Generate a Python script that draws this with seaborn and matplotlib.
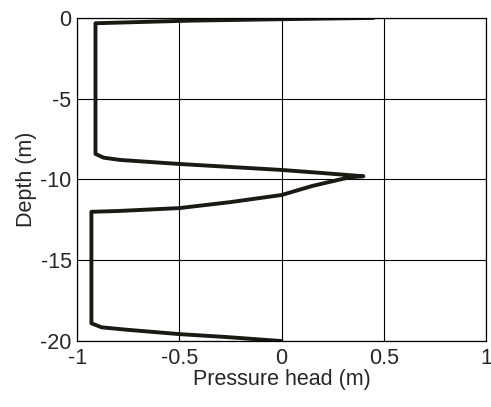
import seaborn as sns
import pandas as pd
import matplotlib
matplotlib.use("Agg")
import matplotlib.pyplot as plt

# profile, top to bottom
pressure = [0.45, 0.0, -0.45, -0.91, -0.91, -0.91, -0.87, -0.79, -0.5, 0.0, 0.2, 0.4,
            0.33, 0.15, 0.0, -0.25, -0.5, -0.8, -0.93, -0.93, -0.93, -0.88, -0.756, -0.5, -0.27, 0.0]
depth = [0.0, -0.08, -0.17, -0.33, -4.0, -8.42, -8.65, -8.79, -9.04, -9.41, -9.6, -9.8,
         -9.87, -10.4, -10.96, -11.4, -11.77, -11.95, -12.0, -15.0, -18.9, -19.15, -19.3, -19.57, -19.75, -20.0]

df = pd.DataFrame({"Pressure head (m)": pressure, "Depth (m)": depth})

sns.set_style("white")
plt.rcParams['font.family'] = ['Liberation Sans', 'DejaVu Sans']
plt.rcParams['axes.unicode_minus'] = False

fig = plt.figure(figsize=(4.91, 4.07), dpi=100)
ax = fig.add_axes([0.157, 0.162, 0.833, 0.794])
sns.lineplot(data=df, x="Pressure head (m)", y="Depth (m)", sort=False, estimator=None,
             color="#1a1a14", linewidth=2.8, ax=ax)

ax.set_xlim(-1, 1)
ax.set_ylim(-20, 0)
ax.set_xticks([-1, -0.5, 0, 0.5, 1])
ax.set_xticklabels(["-1", "-0.5", "0", "0.5", "1"])
ax.set_yticks([-20, -15, -10, -5, 0])
ax.grid(True, color="black", linewidth=0.8)
for s in ax.spines.values():
    s.set_color("black")
    s.set_linewidth(0.9)
ax.tick_params(labelsize=15.5, length=0)
ax.tick_params(axis="x", pad=5)
ax.tick_params(axis="y", pad=4)
ax.set_xlabel("Pressure head (m)", fontsize=15.5, labelpad=0)
ax.set_ylabel("Depth (m)", fontsize=15.5, labelpad=2)

fig.savefig("out.png", dpi=100)
